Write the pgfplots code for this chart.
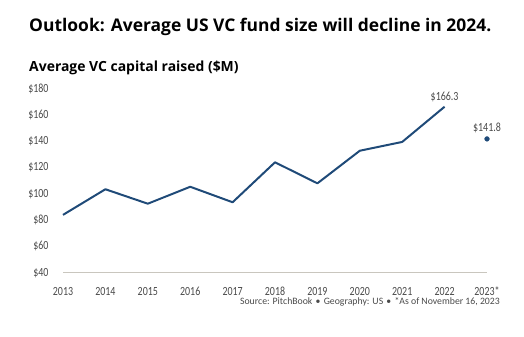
\documentclass[border=0pt]{standalone}
\usepackage{fontspec}
\usepackage{graphicx}
\setmainfont{Carlito}
\newfontfamily\titlefont{Open Sans}
\usepackage{pgfplots}
\pgfplotsset{compat=1.18}
\definecolor{navy}{HTML}{1F4A78}
\definecolor{tickgray}{HTML}{4A4A4A}
\definecolor{axisgray}{HTML}{C9C6BE}
\newcommand\tl[1]{\scalebox{0.8}[1]{#1}}
\begin{document}
\begin{tikzpicture}[x=1bp,y=1bp]
\path[use as bounding box] (0,0) rectangle (524,336);
\node[anchor=base west, inner sep=0pt] at (29,304.3) {\titlefont\bfseries\fontsize{17.5}{20}\selectfont Outlook: Average US VC fund size will decline in 2024.};
\node[anchor=base west, inner sep=0pt] at (29,265) {\titlefont\bfseries\fontsize{14}{16}\selectfont Average VC capital raised (\$M)};
\node[anchor=base east, inner sep=0pt, text=tickgray] at (500,31.5) {\fontsize{9.8}{11}\selectfont Source: PitchBook\,\,•\,\,Geography: US\,\,•\,\,*As of November 16, 2023};
\begin{axis}[
  at={(63bp,63.3bp)}, anchor=south west,
  scale only axis, width=424bp, height=184bp,
  xmin=0, xmax=10, ymin=40, ymax=180,
  axis x line*=bottom, axis y line*=left,
  x axis line style={draw=axisgray, line width=0.9pt, -},
  y axis line style={draw=none},
  major tick length=0pt,
  xtick={0,...,10},
  xticklabels={\tl{2013},\tl{2014},\tl{2015},\tl{2016},\tl{2017},\tl{2018},\tl{2019},\tl{2020},\tl{2021},\tl{2022},\tl{2023*}},
  ytick={40,60,...,180},
  yticklabels={\tl{\$40},\tl{\$60},\tl{\$80},\tl{\$100},\tl{\$120},\tl{\$140},\tl{\$160},\tl{\$180}},
  tick label style={font=\fontsize{12.5}{14}\selectfont, text=tickgray},
  yticklabel style={anchor=east, xshift=-11bp},
  xticklabel style={anchor=base, inner sep=0pt, yshift=-22.5bp},
  clip=false,
]
\addplot[navy, line width=2pt, line join=round] coordinates {
 (0,84.0) (1,103.5) (2,92.5) (3,105.4) (4,93.6) (5,124.0) (6,108.0) (7,132.8) (8,139.5) (9,166.3)
};
\addplot[draw=none, mark=*, mark size=2.4pt, mark options={fill=navy, draw=navy},
  nodes near coords={\tl{\$141.8}}, every node near coord/.append style={font=\fontsize{12.5}{14}\selectfont, text=tickgray, yshift=3bp}] coordinates {(10,141.8)};
\addplot[draw=none, mark=none,
  nodes near coords={\tl{\$166.3}}, every node near coord/.append style={font=\fontsize{12.5}{14}\selectfont, text=tickgray, yshift=1bp}] coordinates {(9,166.3)};
\end{axis}
\end{tikzpicture}
\end{document}
